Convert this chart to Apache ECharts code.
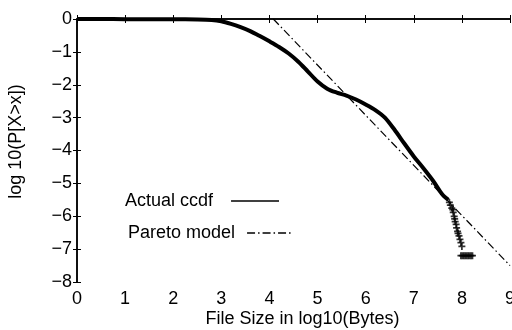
<!DOCTYPE html>
<html>
<head>
<meta charset="utf-8">
<script src="https://cdn.jsdelivr.net/npm/echarts@6/dist/echarts.min.js"></script>
<style>
	html, body { margin: 0; padding: 0; background: #fff; }
	#chart { width: 512px; height: 330px; }
</style>
</head>
<body>
<div id="chart"></div>
<script>
// 实际 ccdf 曲线（粗线部分）
var ccdfX = [0, 0.5, 1, 1.5, 2, 2.5, 2.8, 3.0, 3.2, 3.4, 3.6, 3.8, 4.0, 4.2, 4.4, 4.6, 4.8, 5.0, 5.2, 5.4, 5.6, 5.8, 6.0, 6.2, 6.4, 6.6, 6.8, 7.0, 7.2, 7.4, 7.55, 7.62, 7.72];
var ccdfY = [0, 0, -0.005, -0.01, -0.01, -0.015, -0.03, -0.07, -0.15, -0.25, -0.37, -0.52, -0.68, -0.85, -1.05, -1.3, -1.6, -1.9, -2.12, -2.24, -2.33, -2.45, -2.6, -2.77, -3.0, -3.37, -3.78, -4.18, -4.54, -4.92, -5.25, -5.38, -5.5];

// 尾部散点
var tailX = [7.74, 7.76, 7.79, 7.81, 7.82, 7.84, 7.85, 7.86, 7.88, 7.89, 7.91, 7.92, 7.94, 7.96, 7.98, 8.0, 7.98, 8.01, 8.04, 8.07, 8.1, 8.13, 8.16, 8.19, 8.22];
var tailY = [-5.58, -5.66, -5.75, -5.8, -5.88, -6.0, -6.08, -6.16, -6.25, -6.35, -6.46, -6.52, -6.6, -6.7, -6.8, -6.92, -7.2, -7.2, -7.2, -7.2, -7.2, -7.2, -7.2, -7.2, -7.2];

// Pareto 模型直线
var paretoX = [4.08, 9];
var paretoY = [0, -7.5];

var xTicks = [0, 1, 2, 3, 4, 5, 6, 7, 8, 9];
var yTicks = [-8, -7, -6, -5, -4, -3, -2, -1, 0];

function zip(xs, ys) {
	var out = [];
	for (var i = 0; i < xs.length; ++i) {
		out.push([xs[i], ys[i]]);
	}
	return out;
}

var font = '"Liberation Sans", Arial, sans-serif';
var fs = 18;
var plus = 'path://M-1,-4H1V-1H4V1H1V4H-1V1H-4V-1H-1Z';

var myChart = echarts.init(document.getElementById('chart'));

var axisCommon = {
	type: 'value',
	axisLine: { show: true, lineStyle: { color: '#000', width: 1.5 } },
	axisTick: { show: true, inside: true, length: 4, lineStyle: { color: '#000', width: 1 } },
	splitLine: { show: false }
};

var option = {
	animation: false,
	backgroundColor: '#fff',
	textStyle: { fontFamily: font, color: '#000' },
	grid: { left: 77, right: 2, top: 19, bottom: 48, outerBoundsMode: 'none', containLabel: false },
	xAxis: [
		echarts.util.merge({
			min: xTicks[0], max: xTicks[xTicks.length - 1], interval: 1,
			position: 'bottom',
			name: 'File Size in log10(Bytes)',
			nameLocation: 'middle',
			nameGap: 28,
			nameMoveOverlap: false,
			nameTextStyle: { fontSize: fs, color: '#000', fontFamily: font, padding: [0, 0, 0, 18] },
			axisLabel: { fontSize: fs, color: '#000', fontFamily: font, margin: 8 }
		}, axisCommon, true),
		echarts.util.merge({
			min: xTicks[0], max: xTicks[xTicks.length - 1], interval: 1,
			position: 'top',
			axisLabel: { show: false }
		}, axisCommon, true)
	],
	yAxis: [
		echarts.util.merge({
			min: yTicks[0], max: yTicks[yTicks.length - 1], interval: 1,
			position: 'left',
			name: 'log 10(P[X>x])',
			nameLocation: 'middle',
			nameGap: 52,
			nameMoveOverlap: false,
			nameTextStyle: { fontSize: fs, color: '#000', fontFamily: font, padding: [0, 0, 0, 18] },
			axisLabel: { fontSize: fs, color: '#000', fontFamily: font, margin: 5,
				formatter: function(v) { return String(v).replace('-', '\u2212'); } }
		}, axisCommon, true),
		echarts.util.merge({
			min: yTicks[0], max: yTicks[yTicks.length - 1], interval: 1,
			position: 'right',
			axisLabel: { show: false }
		}, axisCommon, true)
	],
	legend: [{
		data: ['Actual ccdf'],
		left: 120, top: 187,
		orient: 'vertical',
		align: 'right',
		itemWidth: 48, itemHeight: 10, itemGap: 0,
		lineStyle: { width: 1.3 },
		itemStyle: { color: 'rgba(0,0,0,0)', borderWidth: 0 },
		textStyle: { fontSize: fs, color: '#000', fontFamily: font, padding: [0, 13, 0, 0] }
	}, {
		data: ['Pareto model'],
		left: 123, top: 219,
		orient: 'vertical',
		align: 'right',
		itemWidth: 46, itemHeight: 10, itemGap: 0,
		lineStyle: { width: 1.3 },
		itemStyle: { color: 'rgba(0,0,0,0)', borderWidth: 0 },
		textStyle: { fontSize: fs, color: '#000', fontFamily: font, padding: [0, 7, 0, 0] }
	}],
	series: [{
		name: 'Actual ccdf',
		type: 'line',
		data: zip(ccdfX, ccdfY),
		smooth: 0.3,
		symbol: 'none',
		lineStyle: { color: '#000', width: 4 },
		itemStyle: { color: '#000' },
		z: 3
	}, {
		name: 'tail',
		type: 'scatter',
		data: zip(tailX, tailY),
		symbol: plus,
		symbolSize: 7,
		itemStyle: { color: '#000' },
		z: 3
	}, {
		name: 'Pareto model',
		type: 'line',
		data: zip(paretoX, paretoY),
		symbol: 'none',
		lineStyle: { color: '#000', width: 1.2, type: [8, 3, 1.5, 3] },
		itemStyle: { color: '#000' },
		z: 2
	}]
};

myChart.setOption(option);
</script>
</body>
</html>
